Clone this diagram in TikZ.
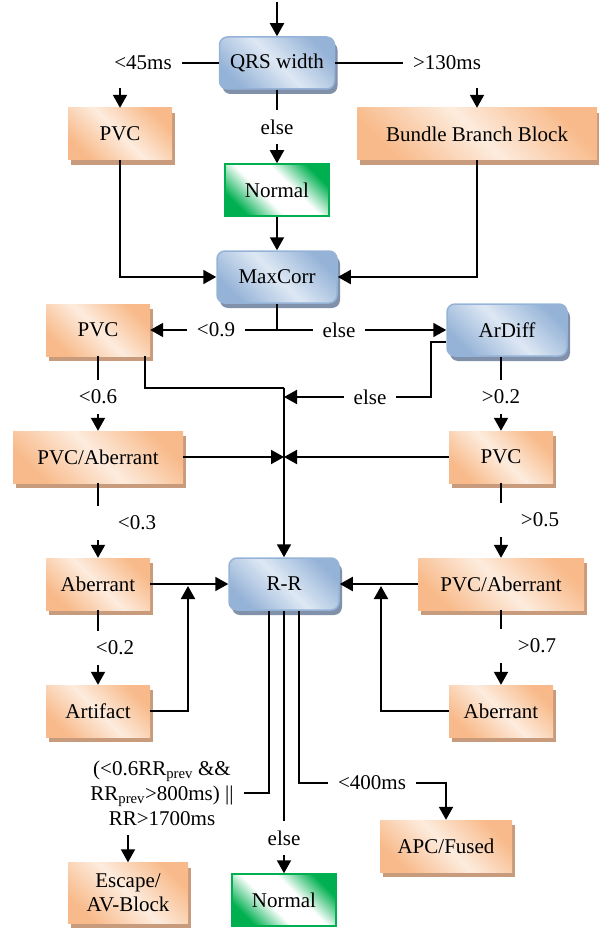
\documentclass[tikz,border=0pt]{standalone}
\usepackage{fontspec}
\setmainfont{Liberation Serif}
\usetikzlibrary{arrows.meta,shadows}
\definecolor{orangedark}{RGB}{248,186,138}
\definecolor{orangepale}{RGB}{253,236,222}
\definecolor{orangeshadow}{RGB}{200,155,125}
\definecolor{bluedark}{RGB}{149,179,215}
\definecolor{bluepale}{RGB}{222,232,244}
\definecolor{blueshadow}{RGB}{130,145,170}
\definecolor{greendark}{RGB}{0,176,80}
\pgfdeclareverticalshading{greenfade}{100bp}{color(0bp)=(greendark); color(25bp)=(greendark); color(42bp)=(white); color(58bp)=(white); color(75bp)=(greendark); color(100bp)=(greendark)}

\begin{document}
\begin{tikzpicture}[x=1pt,y=-1pt,font=\fontsize{21}{25}\selectfont]
    \tikzstyle{cond}=[rectangle,rounded corners=8pt,draw=bluedark,line width=1.5pt,left color=bluedark,right color=bluedark,middle color=bluepale,shading angle=135,minimum width=115pt,minimum height=52pt,drop shadow={shadow xshift=3pt,shadow yshift=-5pt,fill=blueshadow,opacity=1}]
    \tikzstyle{result}=[rectangle,left color=orangedark,right color=orangedark,middle color=orangepale,shading angle=135,minimum width=104pt,minimum height=52pt,drop shadow={shadow xshift=3pt,shadow yshift=-5pt,fill=orangeshadow,opacity=1}]
    \tikzstyle{normal}=[rectangle,draw=greendark,line width=1.5pt,shade,shading=greenfade,shading angle=135,minimum width=104pt,minimum height=52pt]
    \tikzstyle{lbl}=[inner sep=0pt,outer xsep=10pt,outer ysep=10pt]
    \tikzstyle{conn}=[line width=2pt]
    \tikzstyle{arr}=[line width=2pt,-{Triangle[length=13pt,width=14pt]}]
    \useasboundingbox (0,0) rectangle (599,928);
    \coordinate (in) at (277,2);
    \node[cond] (qrs) at (277,63) {QRS width};
    \node[result] (pvcA) at (120,134) {PVC};
    \node[result,minimum width=240pt] (bbb) at (477,134) {Bundle Branch Block};
    \node[normal] (normA) at (277,190) {Normal};
    \node[cond,minimum width=120pt] (maxcorr) at (277,277) {MaxCorr};
    \node[result] (pvcB) at (98,330) {PVC};
    \node[cond,minimum width=120pt] (ardiff) at (507,330) {ArDiff};
    \node[result,minimum width=170pt] (pvcabA) at (98,457) {PVC/Aberrant};
    \node[result] (pvcC) at (501,457) {PVC};
    \node[result] (aberA) at (98,584) {Aberrant};
    \node[cond,minimum width=110pt] (rr) at (284,584) {R-R};
    \node[result,minimum width=166pt] (pvcabB) at (501,584) {PVC/Aberrant};
    \node[result] (artifact) at (98,711) {Artifact};
    \node[result] (aberB) at (501,711) {Aberrant};
    \node[result,minimum width=132pt] (apc) at (446,846) {APC/Fused};
    \node[result,minimum width=120pt,minimum height=61pt,align=center,font=\fontsize{21}{24}\selectfont] (escape) at (128,893) {Escape/\\AV-Block};
    \node[normal] (normB) at (284,900) {Normal};

    \node[lbl] (lt45) at (143,63) {<45ms};
    \node[lbl] (gt130) at (447,63) {>130ms};
    \node[lbl] (elseA) at (277,127) {else};
    \node[lbl] (lt09) at (216,330) {<0.9};
    \node[lbl] (elseB) at (339,330) {else};
    \node[lbl] (elseC) at (370,397) {else};
    \node[lbl] (lt06) at (98,397) {<0.6};
    \node[lbl] (gt02) at (501,397) {>0.2};
    \node[lbl] (lt03) at (137,523) {<0.3};
    \node[lbl] (gt05) at (540,520) {>0.5};
    \node[lbl] (lt02) at (115,648) {<0.2};
    \node[lbl] (gt07) at (537,646) {>0.7};
    \node[lbl,align=center] (rrcond) at (162,793) {(<0.6RR\textsubscript{prev} \&\&\\RR\textsubscript{prev}>800ms) ||\\RR>1700ms};
    \node[lbl] (lt400) at (372,783) {<400ms};
    \node[lbl] (elseD) at (284,838) {else};

    \coordinate (split) at (277,330);
    \coordinate (jtop) at (284,388);
    \coordinate (jelse) at (284,397);
    \coordinate (jmid) at (284,457);
    \coordinate (jleft) at (188,586);
    \coordinate (jright) at (381,586);

    \draw[arr] (in) -- (qrs);
    \draw[conn] (qrs) -- (lt45);
    \draw[arr] ([yshift=-8pt]lt45.south -| pvcA.north) -- (pvcA);
    \draw[conn] (qrs) -- (gt130);
    \draw[arr] ([yshift=-8pt]gt130.south -| bbb.north) -- (bbb);
    \draw[conn] (qrs) -- (elseA);
    \draw[arr] (elseA) -- (normA);
    \draw[arr] (normA) -- (maxcorr);
    \draw[arr] (pvcA) |- (maxcorr);
    \draw[arr] (bbb) |- (maxcorr);

    \draw[conn] (maxcorr) -- (split);
    \draw[conn] (split) -- (lt09);
    \draw[arr] (lt09) -- (pvcB);
    \draw[conn] (split) -- (elseB);
    \draw[arr] (elseB) -- (ardiff);

    \draw[conn] ([yshift=-12pt]ardiff.west) -- ++(-15,0) |- (elseC);
    \draw[arr] (elseC) -- (jelse);
    \draw[conn] ([xshift=47pt]pvcB.south) |- (jtop);
    \draw[arr] (jtop) -- (rr);

    \draw[conn] (pvcB) -- (lt06);
    \draw[arr] (lt06) -- (pvcabA);
    \draw[conn] (ardiff.south -| pvcC.north) -- (gt02);
    \draw[arr] (gt02) -- (pvcC);
    \draw[arr] (pvcabA) -- (jmid);
    \draw[arr] (pvcC) -- (jmid);

    \draw[conn] (pvcabA) -- (pvcabA.south |- lt03.north);
    \draw[arr] (pvcabA.south |- lt03.south) -- (aberA);
    \draw[conn] (pvcC) -- (pvcC.south |- gt05.north);
    \draw[arr] (pvcC.south |- gt05.south) -- (pvcabB);

    \draw[arr] (aberA) -- (rr);
    \draw[arr] (pvcabB) -- (rr);
    \draw[arr] (artifact) -| (jleft);
    \draw[arr] (aberB) -| (jright);
    \draw[conn] (aberA) -- (aberA.south |- lt02.north);
    \draw[arr] (aberA.south |- lt02.south) -- (artifact);
    \draw[conn] (pvcabB) -- (pvcabB.south |- gt07.north);
    \draw[arr] (pvcabB.south |- gt07.south) -- (aberB);

    \draw[conn] ([xshift=-15pt]rr.south) |- (rrcond);
    \draw[arr] (rrcond.south -| escape.north) -- (escape);
    \draw[conn] (rr) -- (elseD);
    \draw[arr] (elseD) -- (normB);
    \draw[conn] ([xshift=15pt]rr.south) |- (lt400);
    \draw[arr] (lt400) -| (apc);
\end{tikzpicture}
\end{document}
